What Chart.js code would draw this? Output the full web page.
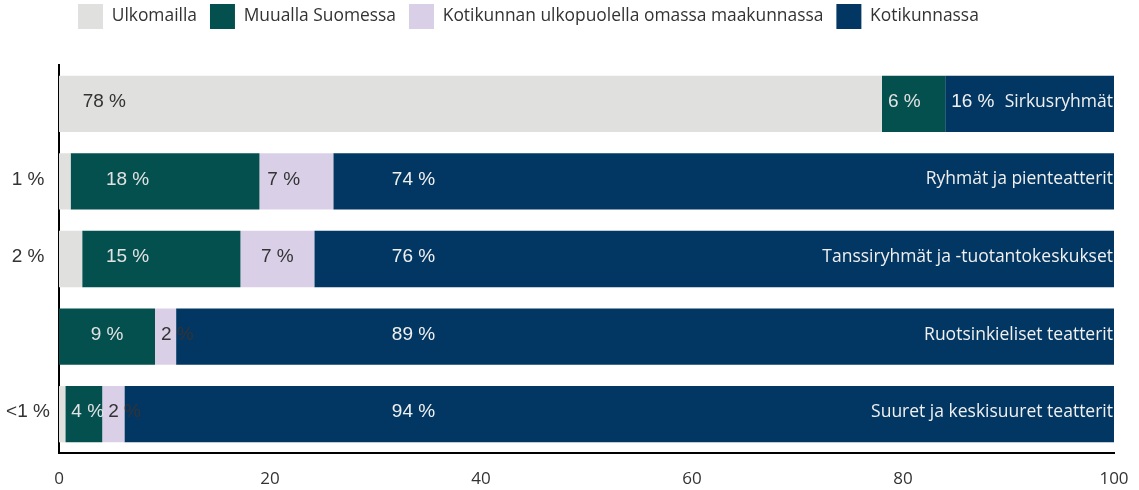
<!DOCTYPE html>
<html>
<head>
<meta charset="utf-8">
<script src="https://cdn.jsdelivr.net/npm/chart.js@4"></script>
<style>
  body { margin: 0; background: #fff; }
  #wrap { width: 1139px; height: 490px; position: relative; }
</style>
</head>
<body>
<div id="wrap"><canvas id="chart"></canvas></div>
<script>
// Data
const categories = ['Sirkusryhmät', 'Ryhmät ja pienteatterit', 'Tanssiryhmät ja -tuotantokeskukset', 'Ruotsinkieliset teatterit', 'Suuret ja keskisuuret teatterit'];
const seriesNames = ['Ulkomailla', 'Muualla Suomessa', 'Kotikunnan ulkopuolella omassa maakunnassa', 'Kotikunnassa'];
const ulkomailla = [78, 1.1, 2.2, 0, 0.6];
const muuallaSuomessa = [6, 17.9, 15, 9.1, 3.5];
const omassaMaakunnassa = [0, 7, 7, 2, 2.1];
const kotikunnassa = [16, 74, 75.8, 88.9, 93.8];
const xTicks = [0, 20, 40, 60, 80, 100];

const colors = ['#e0e0de', '#03504f', '#d9d0e8', '#033763'];
const textColors = ['#333333', '#e2e2e2', '#333333', '#f0f0f0'];
// preferred label column per series (axis units)
const labelAnchor = [4.3, 6.5, 21.3, 33.6];
const FONT = '"Open Sans", sans-serif';
const NUM_FONT = '"Liberation Sans", Arial, sans-serif';
const LEGEND_PAD = 13;

function fmt(v) {
  if (v < 1) return '<1 %';
  return Math.round(v) + ' %';
}

// move the legend row to where the original has it
const legendShift = {
  id: 'legendShift',
  afterLayout(chart) {
    chart.legend.left = 78 - LEGEND_PAD;
    chart.legend.top = 4 - LEGEND_PAD;
  }
};

const segLabels = {
  id: 'segLabels',
  afterDatasetsDraw(chart) {
    const ctx = chart.ctx;
    const xs = chart.scales.x;
    const area = chart.chartArea;
    ctx.save();
    ctx.font = '19px ' + NUM_FONT;
    ctx.textBaseline = 'middle';
    chart.data.datasets.forEach((ds, di) => {
      const meta = chart.getDatasetMeta(di);
      meta.data.forEach((bar, i) => {
        const v = ds.data[i];
        if (!v) return;
        const p = bar.getProps(['x', 'y', 'base'], true);
        const start = Math.min(p.x, p.base), end = Math.max(p.x, p.base);
        const txt = fmt(v);
        const tw = ctx.measureText(txt).width;
        ctx.fillStyle = textColors[di];
        ctx.textAlign = 'center';
        if (di === 0 && v < 3) {
          ctx.fillStyle = '#333333';
          ctx.fillText(txt, 28, p.y - 2);
          return;
        }
        const center = (start + end) / 2;
        const anchor = xs.getPixelForValue(labelAnchor[di]);
        const lx = Math.max(start + tw / 2 + 6, Math.min(center, anchor));
        ctx.fillText(txt, lx, p.y - 2);
      });
    });
    // category names inside the bars, right aligned
    ctx.font = '17.5px ' + FONT;
    ctx.fillStyle = '#f0f0f0';
    ctx.textAlign = 'right';
    const meta = chart.getDatasetMeta(0);
    meta.data.forEach((bar, i) => {
      ctx.fillText(categories[i], area.right - 1, bar.y - 2);
    });
    ctx.restore();
  }
};

const datasets = [ulkomailla, muuallaSuomessa, omassaMaakunnassa, kotikunnassa].map((d, i) => ({
  label: seriesNames[i],
  data: d,
  backgroundColor: colors[i],
  borderWidth: 0,
  categoryPercentage: 1,
  barPercentage: 0.725
}));

new Chart(document.getElementById('chart'), {
  type: 'bar',
  data: { labels: categories, datasets: datasets },
  plugins: [segLabels, legendShift],
  options: {
    indexAxis: 'y',
    responsive: true,
    maintainAspectRatio: false,
    animation: false,
    layout: { padding: { left: 0, right: 25, top: 17, bottom: 0 } },
    plugins: {
      legend: {
        position: 'top',
        align: 'start',
        labels: {
          boxWidth: 25,
          boxHeight: 25,
          padding: LEGEND_PAD,
          color: '#333333',
          font: { family: FONT, size: 17.4 }
        }
      },
      tooltip: { enabled: false }
    },
    scales: {
      x: {
        stacked: true,
        min: 0,
        max: 100,
        afterBuildTicks(s) { s.ticks = xTicks.map(v => ({ value: v })); },
        afterFit(s) { s.height = 37; s.paddingLeft = 0; s.paddingRight = 0; },
        grid: { display: false, drawTicks: false },
        border: { display: true, color: '#000000', width: 2 },
        ticks: { color: '#333333', padding: 16, font: { family: FONT, size: 17 } }
      },
      y: {
        stacked: true,
        afterFit(s) { s.width = 59; },
        grid: { display: false, drawTicks: false },
        border: { display: true, color: '#000000', width: 2 },
        ticks: { display: false }
      }
    }
  }
});
</script>
</body>
</html>
